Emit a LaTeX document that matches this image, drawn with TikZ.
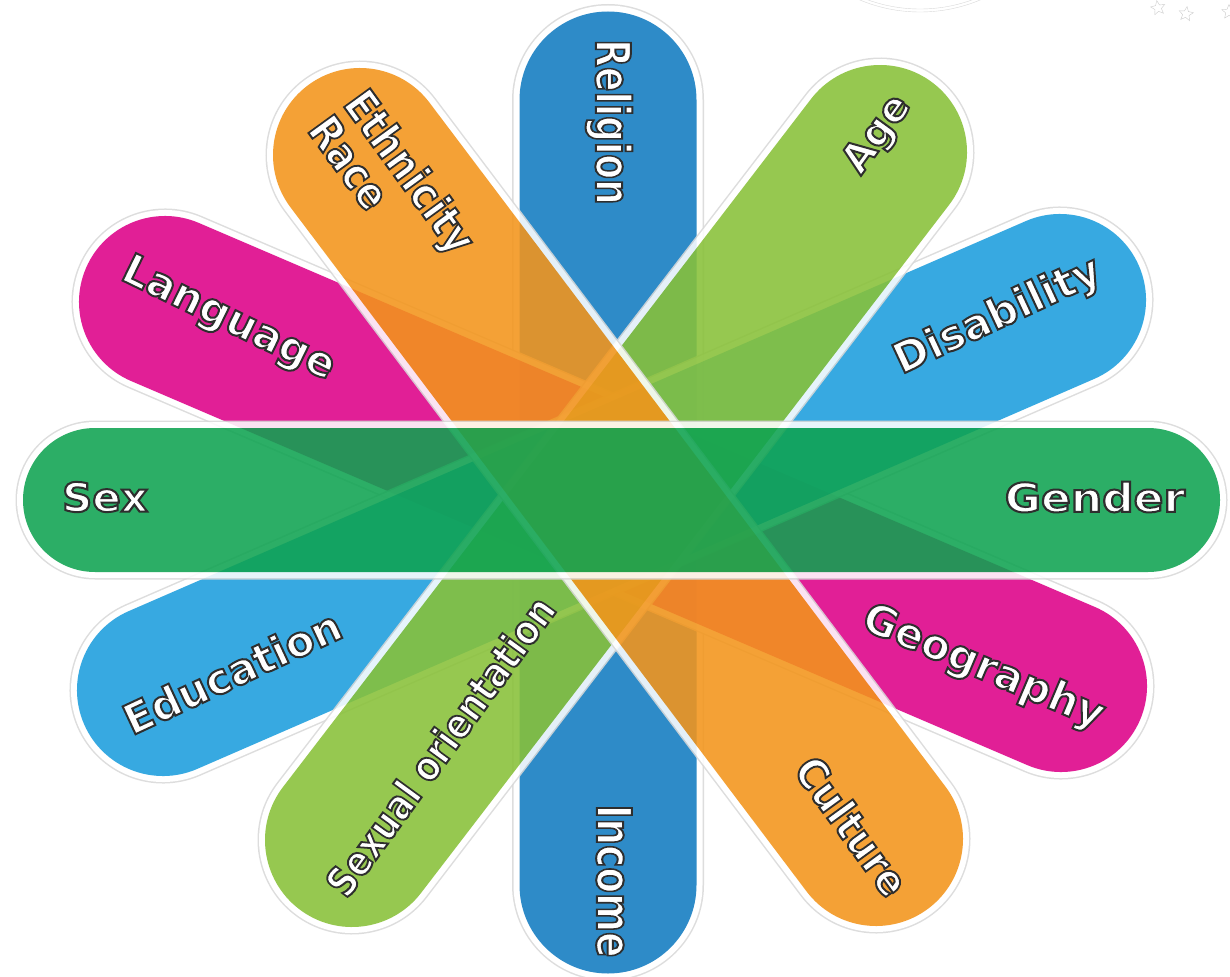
\documentclass[tikz,border=0pt]{standalone}
\usepackage{fontspec}
\setmainfont{DejaVu Sans}
\usetikzlibrary{shapes.geometric}
\definecolor{sexgreen}{RGB}{15,163,81}
\definecolor{faithblue}{RGB}{18,123,193}
\definecolor{raceorange}{RGB}{243,149,27}
\definecolor{agegreen}{RGB}{136,193,56}
\definecolor{langpink}{RGB}{221,0,136}
\definecolor{edublue}{RGB}{28,158,221}
% one band: grey rim, white border, coloured body, seen through as a whole
\newcommand\petal[4]{%
	\begin{scope}[transparency group,opacity=.88]
		\draw[line cap=round,line width=#3pt+15pt,gray!30] (#1)--(#2);
		\draw[line cap=round,line width=#3pt+12pt,white] (#1)--(#2);
		\draw[line cap=round,line width=#3pt,#4] (#1)--(#2);
	\end{scope}}
% white word with a dark outline: size, horizontal squeeze, text
\newcommand\word[3]{{\fontsize{#1}{#1}\selectfont\scalebox{#2}[1]{\special{pdf:literal direct 2 Tr 2 w 0.18 0.18 0.18 RG}#3\special{pdf:literal direct 0 Tr}}}}
\begin{document}
\begin{tikzpicture}[x=1pt,y=-1pt,lbl/.style={text=white,inner sep=0pt,font=\bfseries}]
	\useasboundingbox (0,0) rectangle (1230,976);
	\fill[white] (0,0) rectangle (1230,976);
	\clip (0,0) rectangle (1230,976);
	% faint marks along the top edge
	\draw[gray!30] (920,-144) circle (156) (920,-144) circle (153);
	\foreach \x/\y/\a in {1158/8/10,1186/14/-8,1229/12/0}
		\node[star,star point ratio=2.2,draw=gray!40,minimum size=15pt,inner sep=0pt,rotate=\a] (st\x) at (\x,\y) {};
	% end points of the bands
	\coordinate (sex) at (95,500);
	\coordinate (gender) at (1148,500);
	\coordinate (religion) at (608,100);
	\coordinate (income) at (608,885);
	\coordinate (ethnicity) at (360,155);
	\coordinate (culture) at (876,839);
	\coordinate (age) at (880,152);
	\coordinate (sexor) at (352,840);
	\coordinate (language) at (165,302);
	\coordinate (geography) at (1061,686);
	\coordinate (disability) at (1060,300);
	\coordinate (education) at (163,690);
	% bands, lowest first
	\petal{religion}{income}{177}{faithblue}
	\petal{language}{geography}{172}{langpink}
	\petal{education}{disability}{172}{edublue}
	\petal{sexor}{age}{174}{agegreen}
	\petal{ethnicity}{culture}{174}{raceorange}
	\petal{sex}{gender}{144}{sexgreen}
	% labels
	\node[lbl] (t-sex) at (105,497) {\word{40}{1.05}{Sex}};
	\node[lbl] (t-gender) at (1095,497) {\word{40}{1.1}{Gender}};
	\node[lbl,rotate=-90] (t-religion) at (609,122) {\word{48}{.75}{Religion}};
	\node[lbl,rotate=-90] (t-income) at (614,881) {\word{48}{.78}{Income}};
	\node[lbl,rotate=-54,align=left,font=\bfseries\fontsize{44}{44}\selectfont] (t-race) at (393,184) {\word{44}{.86}{Ethnicity}\\\word{44}{.86}{Race}};
	\node[lbl,rotate=-54] (t-culture) at (852,826) {\word{42}{.92}{Culture}};
	\node[lbl,rotate=54] (t-age) at (878,135) {\word{40}{1}{Age}};
	\node[lbl,rotate=54] (t-sexor) at (440,746) {\word{41}{.84}{Sexual orientation}};
	\node[lbl,rotate=-26] (t-language) at (228,320) {\word{42}{1}{Language}};
	\node[lbl,rotate=-23] (t-geography) at (983,668) {\word{42}{1}{Geography}};
	\node[lbl,rotate=25] (t-disability) at (998,317) {\word{42}{1}{Disability}};
	\node[lbl,rotate=25] (t-education) at (232,672) {\word{42}{1}{Education}};
\end{tikzpicture}
\end{document}
